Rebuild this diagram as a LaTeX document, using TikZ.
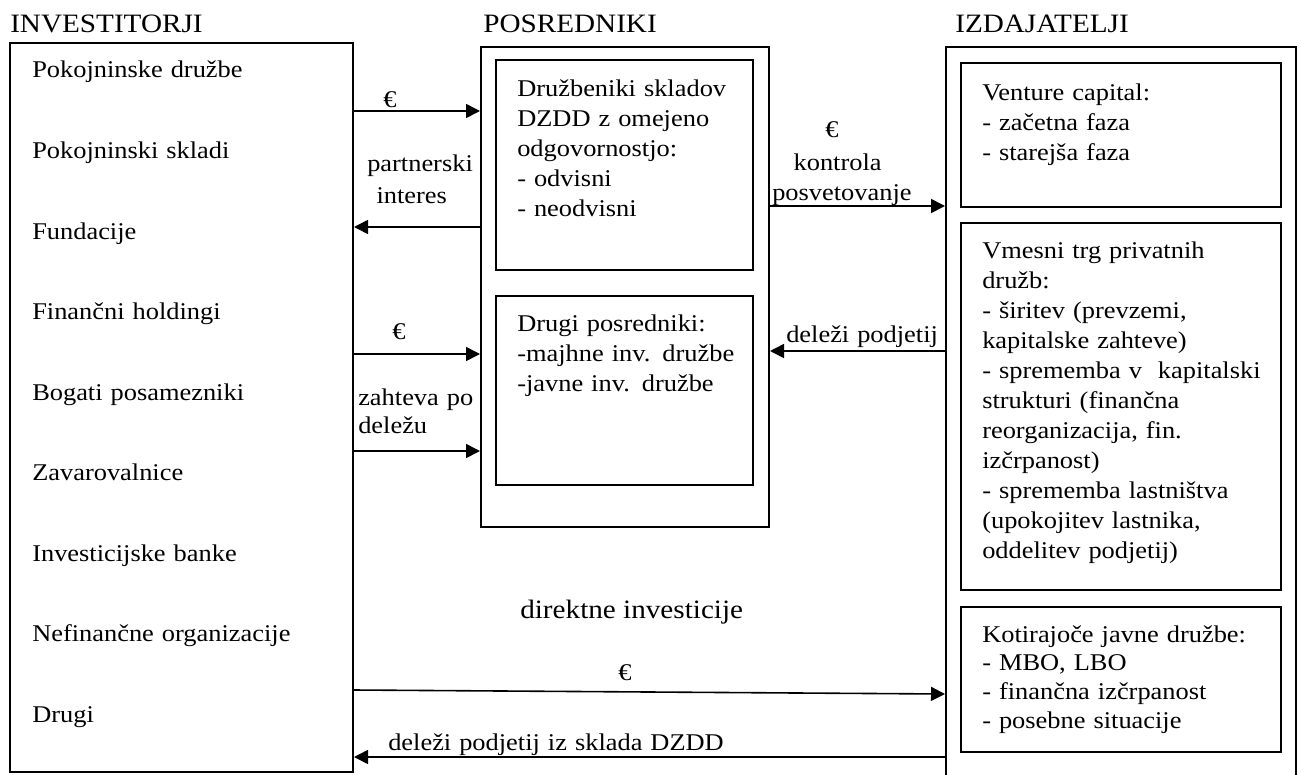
\documentclass[tikz,border=0pt]{standalone}
\usepackage{fontspec}
\setmainfont{Liberation Serif}[FakeStretch=1.1]
\usetikzlibrary{arrows.meta, positioning, fit}
\newcommand{\telo}{\fontsize{18pt}{22.5pt}\selectfont}
\newcommand{\glava}{\fontsize{19.9pt}{24pt}\selectfont}
\tikzset{
    okvir/.style={draw, line width=1.5pt, inner sep=0pt},
    puscica/.style={-{Triangle[length=10.5pt, width=10.5pt]}, line width=1.2pt},
    besedilo/.style={anchor=base west, inner sep=0pt, align=left, text width=320pt, font=\telo},
    znak/.style={anchor=base, inner sep=0pt, font=\telo},
    naslov/.style={anchor=base west, inner sep=0pt, font=\glava},
}

\begin{document}
\begin{tikzpicture}[x=0.75pt, y=-0.75pt]
\useasboundingbox (0,0) rectangle (1301,774);
% naslovi stolpcev
\node[naslov] (tinv) at (10,33) {INVESTITORJI};
\node[naslov] (tpos) at (483,33) {POSREDNIKI};
\node[naslov] (tizd) at (955,33) {IZDAJATELJI};
% okvirji
\node[okvir, fit={(10,43) (353,772)}] (inv) {};
\node[okvir, fit={(481,47) (769,527)}] (pos) {};
\node[okvir, fit={(496,60) (753,270)}] (pos1) {};
\node[okvir, fit={(496,296) (753,485)}] (pos2) {};
\node[okvir, fit={(946,47) (1296,800)}] (izd) {};
\node[okvir, fit={(961,63) (1281,207)}] (izd1) {};
\node[okvir, fit={(961,223) (1281,590)}] (izd2) {};
\node[okvir, fit={(961,607) (1281,752)}] (izd3) {};
% investitorji
\foreach \ime [count=\i from 0] in {Pokojninske družbe, Pokojninski skladi, Fundacije,
    Finančni holdingi, Bogati posamezniki, Zavarovalnice, Investicijske banke,
    Nefinančne organizacije, Drugi}
    \node[besedilo] (inv\i) at (32,78+80.5*\i) {\ime};
% posredniki
\node[besedilo] (p1) at (517,96) {Družbeniki skladov\\DZDD z omejeno\\odgovornostjo:\\- odvisni\\- neodvisni};
\node[besedilo] (p2) at (517,331) {Drugi posredniki:\\-majhne inv. družbe\\-javne inv. družbe};
% izdajatelji
\node[besedilo] (i1) at (982,100) {Venture capital:\\- začetna faza\\- starejša faza};
\node[besedilo] (i2) at (982,258) {Vmesni trg privatnih\\družb:\\- širitev (prevzemi,\\kapitalske zahteve)\\- sprememba v~ kapitalski\\strukturi (finančna\\reorganizacija, fin.\\izčrpanost)\\- sprememba lastništva\\(upokojitev lastnika,\\oddelitev podjetij)};
\node[besedilo] (i3) at (982,642) {Kotirajoče javne družbe:\\[-0.8pt]- MBO, LBO\\[-0.8pt]- finančna izčrpanost\\[-0.8pt]- posebne situacije};
% oznake puscic
\node[znak] (e1) at (390,107) {€};
\node[besedilo] (l1) at (367,171) {partnerski\\[1.5pt]\hspace*{7pt}interes};
\node[znak] (e2) at (832,137) {€};
\node[besedilo] (l2) at (772,170) {\hspace*{16pt}kontrola\\posvetovanje};
\node[znak] (e3) at (399,339) {€};
\node[besedilo] (l3) at (358,405) {zahteva po\\[-1.5pt]deležu};
\node[besedilo] (l4) at (786,342) {deleži podjetij};
\node[naslov] (l5) at (520,618) {direktne investicije};
\node[znak] (e4) at (625,680) {€};
\node[besedilo] (l6) at (388,750) {deleži podjetij iz sklada DZDD};
% puscice
\draw[puscica] (inv.east |- 0,111) -- (pos.west |- 0,111);
\draw[puscica] (pos.west |- 0,227) -- (inv.east |- 0,227);
\draw[puscica] (pos.east |- 0,206) -- (izd.west |- 0,206);
\draw[puscica] (inv.east |- 0,354) -- (pos.west |- 0,354);
\draw[puscica] (inv.east |- 0,451) -- (pos.west |- 0,451);
\draw[puscica] (izd.west |- 0,351) -- (pos.east |- 0,351);
\draw[puscica] (inv.east |- 0,690) -- (izd.west |- 0,694);
\draw[puscica] (izd.west |- 0,757) -- (inv.east |- 0,757);
\end{tikzpicture}
\end{document}
